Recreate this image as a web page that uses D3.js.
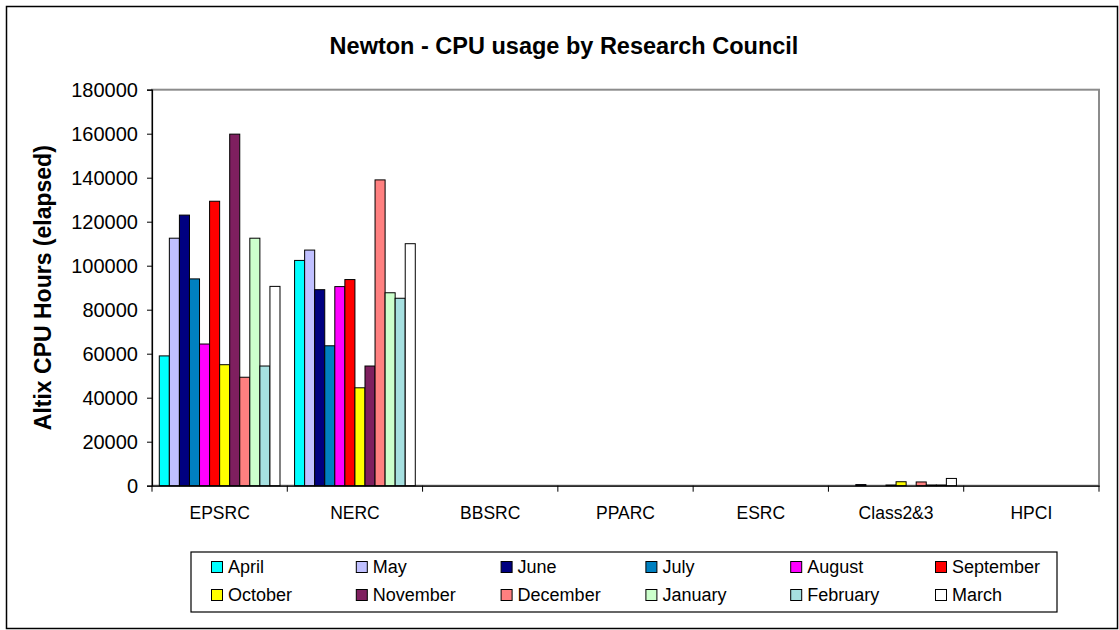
<!DOCTYPE html>
<html>
<head>
<meta charset="utf-8">
<script src="https://cdn.jsdelivr.net/npm/d3@7"></script>
<style>
  html, body { margin: 0; padding: 0; background: #fff; }
  svg { display: block; font-family: "Liberation Sans", Arial, sans-serif; }
</style>
</head>
<body>
<svg id="chart" width="1119" height="630"></svg>
<script>
const categories = ["EPSRC", "NERC", "BBSRC", "PPARC", "ESRC", "Class2&3", "HPCI"];
const months = ["April", "May", "June", "July", "August", "September",
                "October", "November", "December", "January", "February", "March"];
const monthColors = ["#00FFFF", "#C0C0FF", "#000080", "#0080C0", "#FF00FF", "#FF0000",
                     "#FFFF00", "#7F1F5F", "#FF8080", "#CCFFCC", "#A6E0E0", "#FFFFFF"];
// values per category, one per month (April..March)
const EPSRC    = [59000, 112500, 123000, 94000, 64400, 129300, 55000, 159800, 49300, 112500, 54400, 90600];
const NERC     = [102400, 107100, 89100, 63600, 90500, 93700, 44500, 54400, 139000, 87700, 85200, 110000];
const BBSRC    = [0, 0, 0, 0, 0, 0, 0, 0, 0, 0, 0, 0];
const PPARC    = [0, 0, 0, 0, 0, 0, 0, 0, 0, 0, 0, 0];
const ESRC     = [0, 0, 0, 0, 0, 0, 0, 0, 0, 0, 0, 0];
const CLASS23  = [0, 0, 500, 0, 0, 300, 1800, 0, 1700, 300, 300, 3300];
const HPCI     = [0, 0, 0, 0, 0, 0, 0, 0, 0, 0, 0, 0];
const yTicks   = [0, 20000, 40000, 60000, 80000, 100000, 120000, 140000, 160000, 180000];

const seriesByCategory = [EPSRC, NERC, BBSRC, PPARC, ESRC, CLASS23, HPCI];
const table = categories.map((c, i) => ({ cat: c, vals: seriesByCategory[i] }));

const svg = d3.select("#chart");

// outer chart border
svg.append("rect").attr("x", 6.5).attr("y", 6.5).attr("width", 1111).attr("height", 622)
  .attr("fill", "#fff").attr("stroke", "#000").attr("stroke-width", 1.5);

const plot = { left: 152, right: 1099, top: 89.7, bottom: 485.7 };

const x0 = d3.scaleBand().domain(categories).range([plot.left, plot.right]).padding(0);
const x1 = d3.scaleBand().domain(months).range([0, x0.bandwidth()])
  .paddingInner(0).paddingOuter(0.725);
const y = d3.scaleLinear().domain([0, 180000]).range([plot.bottom, plot.top]);

// plot area border (gray)
svg.append("rect").attr("x", plot.left).attr("y", plot.top)
  .attr("width", plot.right - plot.left).attr("height", plot.bottom - plot.top)
  .attr("fill", "none").attr("stroke", "#8c8c8c").attr("stroke-width", 2);

// bars
const groups = svg.append("g").selectAll("g").data(table).join("g")
  .attr("transform", d => `translate(${x0(d.cat)},0)`);
groups.selectAll("rect")
  .data(d => d.vals.map((v, i) => ({ v, m: months[i], c: monthColors[i] })).filter(e => e.v > 0))
  .join("rect")
  .attr("x", d => x1(d.m))
  .attr("y", d => y(d.v))
  .attr("width", x1.bandwidth())
  .attr("height", d => y(0) - y(d.v))
  .attr("fill", d => d.c)
  .attr("stroke", "#000")
  .attr("stroke-width", 1);

// y axis
const yAxis = d3.axisLeft(y).tickValues(yTicks).tickSize(5).tickPadding(9).tickFormat(d3.format("d"));
const yg = svg.append("g").attr("transform", `translate(${plot.left},0)`).call(yAxis);
yg.select(".domain").attr("stroke", "#000").attr("stroke-width", 1.2);
yg.selectAll(".tick line").attr("stroke", "#000");
yg.selectAll(".tick text").attr("font-size", 20).attr("fill", "#000")
  .attr("font-family", "Liberation Sans, Arial, sans-serif");

// x axis with ticks at category boundaries
const xg = svg.append("g").attr("transform", `translate(0,${plot.bottom})`);
const xAxis = d3.axisBottom(x0).tickSize(0).tickPadding(21);
xg.call(xAxis);
xg.select(".domain").attr("stroke", "#000").attr("stroke-width", 1.2);
xg.selectAll(".tick text").attr("font-size", 17.5).attr("fill", "#000")
  .attr("font-family", "Liberation Sans, Arial, sans-serif");
const boundaries = categories.map(c => x0(c)).concat([x0(categories[categories.length - 1]) + x0.bandwidth()]);
xg.selectAll("line.bnd").data(boundaries).join("line").attr("class", "bnd")
  .attr("x1", d => d).attr("x2", d => d).attr("y1", 0).attr("y2", 6)
  .attr("stroke", "#000").attr("stroke-width", 1);

// title
svg.append("text").attr("x", 564).attr("y", 54).attr("text-anchor", "middle")
  .attr("font-size", 23.5).attr("font-weight", "bold").attr("fill", "#000")
  .text("Newton - CPU usage by Research Council");

// y axis title
svg.append("text")
  .attr("transform", `translate(51,${(plot.top + plot.bottom) / 2}) rotate(-90)`)
  .attr("text-anchor", "middle")
  .attr("font-size", 23).attr("font-weight", "bold").attr("fill", "#000")
  .text("Altix CPU Hours (elapsed)");

// legend
const legend = svg.append("g");
legend.append("rect").attr("x", 191).attr("y", 552).attr("width", 866).attr("height", 60)
  .attr("fill", "#fff").attr("stroke", "#000").attr("stroke-width", 1.2);
const colX = d3.scaleLinear().domain([0, 5]).range([211, 935]);
const rowY = [567, 595];
const items = legend.selectAll("g.item").data(months).join("g").attr("class", "item")
  .attr("transform", (d, i) => `translate(${colX(i % 6)},${rowY[Math.floor(i / 6)]})`);
items.append("rect").attr("x", 0.5).attr("y", -5.5).attr("width", 11).attr("height", 11)
  .attr("fill", (d, i) => monthColors[i]).attr("stroke", "#000").attr("stroke-width", 1);
items.append("text").attr("x", 17).attr("y", 0).attr("dy", "0.35em")
  .attr("font-size", 18).attr("fill", "#000").text(d => d);
</script>
</body>
</html>
